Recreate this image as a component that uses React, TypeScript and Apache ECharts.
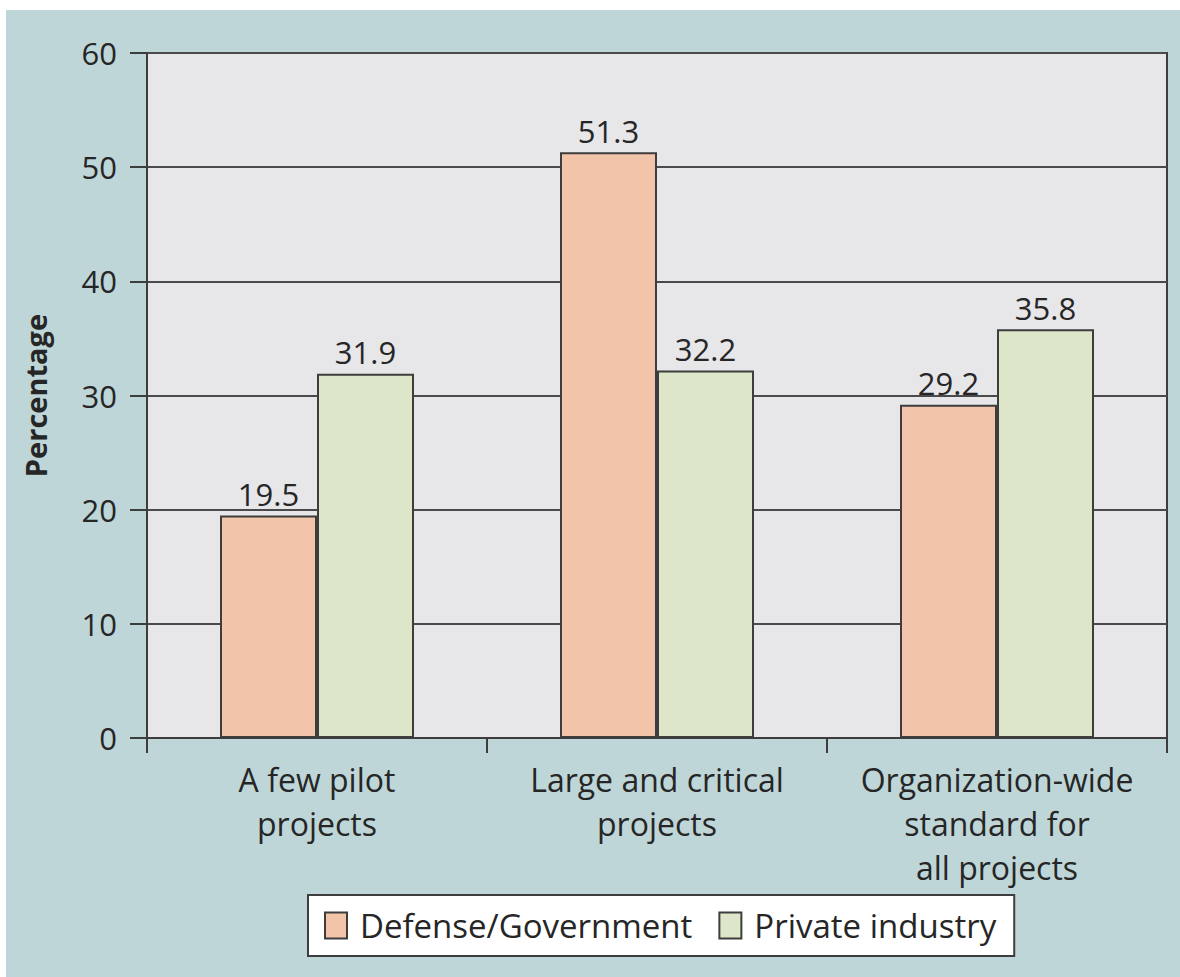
import React, { useEffect, useRef } from "react";
import * as echarts from "echarts";

const categories = [
  "A few pilot\nprojects",
  "Large and critical\nprojects",
  "Organization-wide\nstandard for\nall projects",
];
const defenseGov = [19.5, 51.3, 29.2];
const privateIndustry = [31.9, 32.2, 35.8];
const seriesNames = ["Defense/Government", "Private industry"];

const FONT = "'Open Sans', 'Noto Sans', sans-serif";
const TEXT = "#262626";
const DARK = "#3d3d3d";

export default function App() {
  const ref = useRef<HTMLDivElement>(null);
  useEffect(() => {
    if (!ref.current) return;
    const chart = echarts.init(ref.current, undefined, { renderer: "svg" });
    const labelCfg = {
      show: true,
      position: "top",
      distance: 6,
      color: TEXT,
      fontSize: 31,
      fontFamily: FONT,
    };
    chart.setOption({
      animation: false,
      backgroundColor: "#ffffff",
      graphic: [
        {
          type: "rect",
          z: -10,
          shape: { x: 6, y: 10, width: 1174, height: 967 },
          style: { fill: "#bfd6d8" },
        },
      ],
      grid: {
        left: 147,
        top: 53,
        right: 13,
        bottom: 239,
        show: true,
        backgroundColor: "#e7e7e9",
        borderColor: DARK,
        borderWidth: 2,
      },
      legend: {
        data: seriesNames,
        left: 308,
        top: 895,
        orient: "horizontal",
        icon: "rect",
        itemWidth: 22,
        itemHeight: 26,
        itemGap: 26,
        padding: [14, 18, 14, 16],
        backgroundColor: "#ffffff",
        borderColor: DARK,
        borderWidth: 2,
        itemStyle: { borderColor: DARK, borderWidth: 2 },
        textStyle: {
          color: TEXT,
          fontSize: 33,
          fontFamily: FONT,
          padding: [0, 0, 0, 8],
        },
      },
      xAxis: {
        type: "category",
        data: categories,
        axisLine: { show: true, lineStyle: { color: DARK, width: 2 } },
        axisTick: { show: true, length: 15, lineStyle: { color: DARK, width: 2 } },
        axisLabel: {
          color: TEXT,
          fontSize: 32,
          fontFamily: FONT,
          lineHeight: 44,
          margin: 19,
          interval: 0,
        },
        splitLine: { show: false },
      },
      yAxis: {
        type: "value",
        min: 0,
        max: 60,
        interval: 10,
        name: "Percentage",
        nameLocation: "middle",
        nameGap: 97,
        nameRotate: 90,
        nameTextStyle: {
          color: TEXT,
          fontSize: 29,
          fontWeight: "bold",
          fontFamily: FONT,
        },
        axisLine: { show: true, lineStyle: { color: DARK, width: 2 } },
        axisTick: { show: true, length: 17, lineStyle: { color: DARK, width: 2 } },
        axisLabel: {
          color: TEXT,
          fontSize: 31,
          fontFamily: FONT,
          margin: 30,
        },
        splitLine: { show: true, lineStyle: { color: "#4a4a4a", width: 2 } },
      },
      series: [
        {
          name: seriesNames[0],
          type: "bar",
          data: defenseGov,
          barWidth: 97,
          barGap: "0%",
          itemStyle: { color: "#f2c5ab", borderColor: DARK, borderWidth: 2 },
          label: labelCfg,
        },
        {
          name: seriesNames[1],
          type: "bar",
          data: privateIndustry,
          barWidth: 97,
          barGap: "0%",
          itemStyle: { color: "#dde6c9", borderColor: DARK, borderWidth: 2 },
          label: labelCfg,
        },
      ],
    });
    return () => chart.dispose();
  }, []);
  return (
    <div
      ref={ref}
      style={{ position: "fixed", left: 0, top: 0, width: 1180, height: 977 }}
    />
  );
}
